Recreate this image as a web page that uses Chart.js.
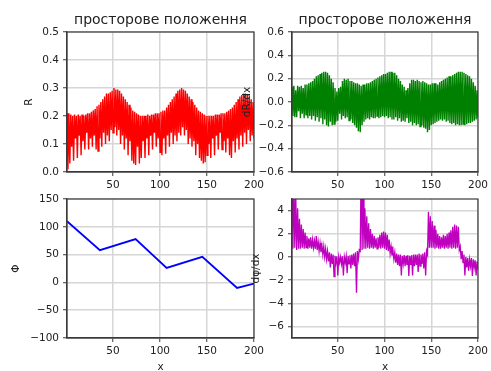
<!DOCTYPE html>
<html>
<head>
<meta charset="utf-8">
<script src="https://cdn.jsdelivr.net/npm/chart.js@4"></script>
<style>
  html, body { margin: 0; padding: 0; width: 491px; height: 371px; overflow: hidden; background: #fff; }
  canvas { position: absolute; left: 0; top: 0; }
</style>
</head>
<body>
<canvas id="chartR" width="491" height="380"></canvas>
<canvas id="chartDR" width="491" height="380"></canvas>
<canvas id="chartPhi" width="491" height="380"></canvas>
<canvas id="chartDPhi" width="491" height="380"></canvas>
<script>
const plotTitle = 'просторове положення';

// R(x), x = 1..200
const rValues = [
  0.21, 0.01, 0.21, 0.03, 0.205, 0.09, 0.2, 0.04, 0.205, 0.12,
  0.2, 0.05, 0.205, 0.13, 0.2, 0.06, 0.205, 0.11, 0.2, 0.08,
  0.205, 0.14, 0.21, 0.08, 0.21, 0.12, 0.215, 0.09, 0.22, 0.13,
  0.225, 0.08, 0.235, 0.075, 0.24, 0.12, 0.25, 0.09, 0.26, 0.14,
  0.27, 0.10, 0.28, 0.13, 0.28, 0.11, 0.285, 0.15, 0.29, 0.14,
  0.30, 0.16, 0.295, 0.13, 0.295, 0.15, 0.29, 0.10, 0.28, 0.13,
  0.27, 0.08, 0.26, 0.12, 0.25, 0.06, 0.24, 0.11, 0.23, 0.04,
  0.22, 0.03, 0.215, 0.025, 0.21, 0.09, 0.205, 0.03, 0.2, 0.05,
  0.2, 0.11, 0.2, 0.05, 0.2, 0.12, 0.205, 0.06, 0.2, 0.13,
  0.205, 0.08, 0.205, 0.14, 0.21, 0.09, 0.21, 0.12, 0.21, 0.07,
  0.215, 0.06, 0.22, 0.12, 0.22, 0.065, 0.23, 0.13, 0.24, 0.09,
  0.25, 0.14, 0.26, 0.10, 0.27, 0.13, 0.28, 0.11, 0.29, 0.14,
  0.295, 0.13, 0.30, 0.16, 0.295, 0.13, 0.29, 0.15, 0.28, 0.10,
  0.27, 0.12, 0.26, 0.09, 0.25, 0.11, 0.24, 0.06, 0.23, 0.10,
  0.22, 0.05, 0.215, 0.04, 0.21, 0.03, 0.205, 0.035, 0.2, 0.06,
  0.2, 0.10, 0.2, 0.05, 0.2, 0.12, 0.2, 0.06, 0.205, 0.13,
  0.205, 0.08, 0.205, 0.14, 0.21, 0.08, 0.21, 0.11, 0.21, 0.07,
  0.215, 0.12, 0.22, 0.06, 0.225, 0.05, 0.23, 0.11, 0.24, 0.07,
  0.25, 0.12, 0.26, 0.08, 0.27, 0.13, 0.275, 0.09, 0.28, 0.14,
  0.28, 0.10, 0.275, 0.15, 0.27, 0.11, 0.26, 0.13, 0.25, 0.12
];

// dR/dx
const drValues = [
  0.13, -0.12, 0.14, -0.13, 0.10, -0.13, 0.14, -0.08, 0.13, -0.14,
  0.14, -0.10, 0.12, -0.14, 0.15, -0.11, 0.15, -0.14, 0.16, -0.12,
  0.17, -0.15, 0.18, -0.12, 0.2, -0.16, 0.22, -0.13, 0.23, -0.17,
  0.24, -0.14, 0.25, -0.19, 0.26, -0.15, 0.26, -0.2, 0.25, -0.21,
  0.23, -0.17, 0.2, -0.2, 0.17, -0.19, 0.12, -0.17, 0.09, -0.16,
  0.12, -0.1, 0.13, -0.15, 0.18, -0.12, 0.2, -0.14, 0.19, -0.13,
  0.2, -0.16, 0.18, -0.15, 0.18, -0.18, 0.17, -0.2, 0.16, -0.22,
  0.16, -0.25, 0.15, -0.26, 0.14, -0.2, 0.15, -0.17, 0.15, -0.15,
  0.16, -0.14, 0.16, -0.15, 0.17, -0.13, 0.18, -0.14, 0.19, -0.14,
  0.2, -0.12, 0.21, -0.14, 0.22, -0.13, 0.23, -0.12, 0.24, -0.13,
  0.24, -0.12, 0.25, -0.14, 0.26, -0.13, 0.26, -0.15, 0.25, -0.15,
  0.25, -0.13, 0.23, -0.16, 0.2, -0.14, 0.18, -0.17, 0.15, -0.16,
  0.13, -0.17, 0.1, -0.14, 0.12, -0.18, 0.16, -0.17, 0.19, -0.2,
  0.19, -0.18, 0.18, -0.2, 0.19, -0.19, 0.18, -0.21, 0.17, -0.2,
  0.18, -0.22, 0.17, -0.23, 0.16, -0.26, 0.15, -0.24, 0.15, -0.2,
  0.16, -0.19, 0.16, -0.18, 0.16, -0.17, 0.15, -0.16, 0.17, -0.15,
  0.18, -0.16, 0.19, -0.15, 0.2, -0.17, 0.21, -0.16, 0.22, -0.18,
  0.22, -0.19, 0.23, -0.18, 0.24, -0.2, 0.25, -0.19, 0.26, -0.2,
  0.26, -0.2, 0.26, -0.19, 0.25, -0.2, 0.24, -0.19, 0.23, -0.18,
  0.22, -0.18, 0.2, -0.17, 0.17, -0.16, 0.14, -0.15, 0.1, -0.14
];

// Φ(x): corner points of the broken line
const phiX = [1, 36, 74, 107, 145, 182, 200];
const phiY = [110, 58, 78, 26, 46, -10, -2];

// dφ/dx
const dphiValues = [
  9, 0.7, 7, 0.8, 5.5, 0.6, 4.2, 0.7, 3.3, 0.7,
  2.8, 0.8, 2.4, 0.7, 2.1, 0.8, 1.8, 0.7, 1.6, 0.8,
  1.7, 0.7, 1.5, 0.8, 1.4, 0.7, 1.8, 0.6, 1.3, 0.5,
  1.2, 0.4, 1.0, 0.2, 0.9, 0.0, 0.7, -0.2, 0.5, -0.4,
  0.4, -0.9, 0.3, -0.6, 0.2, -1.7, 0.1, -0.5, 0.05, -1.6,
  0.0, -0.5, 0.0, -0.6, 0.05, -1.6, 0.0, -0.5, 0.05, -1.4,
  0.1, -0.6, 0.15, -1.0, 0.2, -0.7, 0.3, -0.8, 0.4, -3.1,
  0.5, -0.2, 0.6, 0.5, 8, 0.6, 6, 0.7, 4.2, 0.7,
  3.5, 0.8, 2.9, 0.7, 2.4, 0.8, 2.0, 0.7, 1.8, 0.8,
  1.6, 0.7, 1.7, 0.8, 1.9, 0.7, 2.1, 0.8, 2.2, 0.7,
  2.1, 0.6, 1.9, 0.5, 1.5, 0.3, 0.9, 0.1, 0.6, -0.2,
  0.4, -0.5, 0.3, -0.7, 0.2, -0.8, 0.2, -1.6, 0.1, -0.6,
  0.15, -0.8, 0.1, -0.7, 0.15, -1.65, 0.1, -0.7, 0.15, -1.6,
  0.2, -0.8, 0.2, -0.7, 0.2, -1.3, 0.3, -0.8, 0.2, -0.6,
  0.3, -1.0, 0.4, -1.6, 0.5, 0.2, 3.9, 0.8, 3.5, 0.8,
  3.1, 0.8, 2.7, 0.7, 2.35, 0.8, 2.0, 0.7, 1.8, 0.7,
  1.7, 0.8, 1.9, 0.7, 1.8, 0.8, 2.0, 0.7, 2.1, 0.8,
  2.3, 0.7, 2.6, 0.8, 2.8, 0.7, 2.7, 0.8, 2.6, 0.6,
  0.9, -0.2, 0.5, -0.5, 0.2, -1.6, 0.0, -0.9, -0.1, -1.2,
  -0.2, -0.8, -0.1, -1.65, -0.2, -0.9, -0.3, -1.6, -0.4, -1.1
];

const xTicks = [50, 100, 150, 200];
const rTicks = [0, 0.1, 0.2, 0.3, 0.4, 0.5];
const drTicks = [-0.6, -0.4, -0.2, 0, 0.2, 0.4, 0.6];
const phiTicks = [-100, -50, 0, 50, 100, 150];
const dphiTicks = [-6, -4, -2, 0, 2, 4];

Chart.defaults.font.family = "'DejaVu Sans', sans-serif";
Chart.defaults.font.size = 10.5;
Chart.defaults.color = '#222';

const W = 491, H = 380;
const GRID = '#d6d6d6';
const SPINE = '#3a3a3a';

function minus(s) { return String(s).replace('-', '\u2212'); }

// top and right spines (matplotlib draws a full box)
const frame = {
  id: 'frame',
  afterDraw(chart) {
    const {ctx, chartArea: a} = chart;
    ctx.save();
    ctx.strokeStyle = SPINE;
    ctx.lineWidth = 1.2;
    ctx.strokeRect(a.left, a.top, a.right - a.left, a.bottom - a.top);
    ctx.restore();
  }
};

function makeChart(id, o) {
  const titleSize = 14;
  const titleLine = titleSize * 1.2;
  const padTop = o.title ? 0 : o.area.T;
  new Chart(document.getElementById(id), {
    type: 'line',
    data: {
      datasets: [{
        data: o.points,
        borderColor: o.color,
        borderWidth: o.width,
        pointRadius: 0,
        tension: 0
      }]
    },
    options: {
      responsive: false,
      animation: false,
      events: [],
      layout: {
        padding: {
          left: o.area.L - o.yW,
          right: W - o.area.R,
          top: padTop,
          bottom: H - o.area.B - o.xH
        }
      },
      plugins: {
        legend: { display: false },
        tooltip: { enabled: false },
        title: {
          display: !!o.title,
          text: o.title || '',
          fullSize: false,
          color: '#222',
          font: { size: titleSize, weight: 'normal' },
          padding: { top: 12, bottom: o.area.T - 12 - titleLine }
        }
      },
      scales: {
        x: {
          type: 'linear',
          min: 1,
          max: 200,
          afterBuildTicks: s => { s.ticks = xTicks.map(v => ({ value: v })); },
          afterFit: s => { s.height = o.xH; },
          ticks: { autoSkip: false, maxRotation: 0, padding: 3 },
          grid: { color: GRID, lineWidth: 1.5, tickColor: SPINE, tickLength: 4, tickWidth: 1 },
          border: { color: SPINE, width: 1.2 },
          title: {
            display: !!o.xTitle,
            text: o.xTitle || '',
            padding: 0,
            font: { size: 10.5 }
          }
        },
        y: {
          min: o.ymin,
          max: o.ymax,
          afterBuildTicks: s => { s.ticks = o.yTicks.map(v => ({ value: v })); },
          afterFit: s => { s.width = o.yW; },
          ticks: { autoSkip: false, padding: 4, callback: o.fmt },
          grid: { color: GRID, lineWidth: 1.5, tickColor: SPINE, tickLength: 4, tickWidth: 1 },
          border: { color: SPINE, width: 1.2 },
          title: {
            display: true,
            text: o.yTitle,
            padding: 0,
            font: { size: 10.5 }
          }
        }
      }
    },
    plugins: [frame]
  });
}

function series(values) {
  return values.map((v, i) => ({ x: i + 1, y: v }));
}

makeChart('chartR', {
  area: { L: 67, R: 254, T: 32, B: 172 },
  yW: 44, xH: 20,
  title: plotTitle,
  yTitle: 'R',
  points: series(rValues),
  color: 'rgb(255,0,0)', width: 1.4,
  ymin: 0, ymax: 0.5, yTicks: rTicks,
  fmt: v => v.toFixed(1)
});

makeChart('chartDR', {
  area: { L: 292, R: 479, T: 32, B: 172 },
  yW: 51, xH: 20,
  title: plotTitle,
  yTitle: 'dR/dx',
  points: series(drValues),
  color: 'rgb(0,128,0)', width: 1.4,
  ymin: -0.6, ymax: 0.6, yTicks: drTicks,
  fmt: v => minus((Math.abs(v) < 1e-9 ? 0 : v).toFixed(1))
});

makeChart('chartPhi', {
  area: { L: 67, R: 254, T: 199, B: 338 },
  yW: 57, xH: 36,
  yTitle: '\u03A6',
  xTitle: 'x',
  points: phiX.map((x, i) => ({ x: x, y: phiY[i] })),
  color: 'rgb(0,0,255)', width: 1.8,
  ymin: -100, ymax: 150, yTicks: phiTicks,
  fmt: v => minus(v)
});

makeChart('chartDPhi', {
  area: { L: 292, R: 479, T: 199, B: 338 },
  yW: 42, xH: 36,
  yTitle: 'd\u03C6/dx',
  xTitle: 'x',
  points: series(dphiValues),
  color: 'rgb(191,0,191)', width: 1.3,
  ymin: -7, ymax: 5, yTicks: dphiTicks,
  fmt: v => minus(v)
});
</script>
</body>
</html>
